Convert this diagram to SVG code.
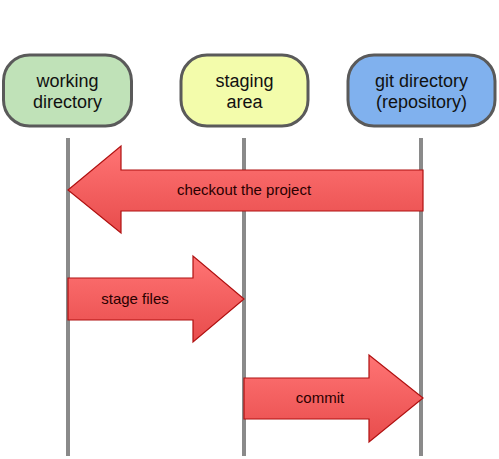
<svg xmlns="http://www.w3.org/2000/svg" width="499" height="459" viewBox="0 0 499 459">
<defs>
<linearGradient id="red" x1="0" y1="0" x2="0" y2="1">
<stop offset="0" stop-color="#ff7474"/>
<stop offset="1" stop-color="#e84c4c"/>
</linearGradient>
<style>
.node{stroke:#5a5a5a;stroke-width:3}
.nt{font-family:"Liberation Sans",Arial,sans-serif;font-size:18px;fill:#111;text-anchor:middle}
.life{stroke:#8a8a8a;stroke-width:4;fill:none}
.arrow{fill:url(#red);stroke:#b01010;stroke-width:1.2;stroke-linejoin:miter}
.at{font-family:"Liberation Sans",Arial,sans-serif;font-size:15px;fill:#2a0000;text-anchor:middle}
</style>
</defs>
<rect width="499" height="459" fill="#fff"/>
<g id="connectors">
<line class="life" x1="68" y1="138" x2="68" y2="456"/>
<line class="life" x1="244" y1="138" x2="244" y2="456"/>
<line class="life" x1="421" y1="138" x2="421" y2="456"/>
<g id="checkout">
<path class="arrow" d="M68,190 L121,146 L121,170 L423,170 L423,211 L121,211 L121,233 Z"/>
<text class="at" x="244" y="195">checkout the project</text>
</g>
<g id="stage">
<path class="arrow" d="M68,278 L193,278 L193,256 L244,299 L193,342 L193,320 L68,320 Z"/>
<text class="at" x="135" y="304">stage files</text>
</g>
<g id="commit">
<path class="arrow" d="M244,378 L369,378 L369,355 L423,398 L369,442 L369,419 L244,419 Z"/>
<text class="at" x="320" y="403">commit</text>
</g>
</g>
<g id="working">
<rect class="node" x="3.5" y="55" width="128" height="71" rx="26" fill="#c0e2b8"/>
<text class="nt" x="67.5" y="87">working</text>
<text class="nt" x="67.5" y="108">directory</text>
</g>
<g id="staging">
<rect class="node" x="181" y="55" width="127" height="71" rx="26" fill="#f3fcab"/>
<text class="nt" x="244.5" y="87">staging</text>
<text class="nt" x="244.5" y="108">area</text>
</g>
<g id="gitdir">
<rect class="node" x="348" y="55" width="147" height="71" rx="26" fill="#80b1ee"/>
<text class="nt" x="421.5" y="87">git directory</text>
<text class="nt" x="421.5" y="108">(repository)</text>
</g>
</svg>
